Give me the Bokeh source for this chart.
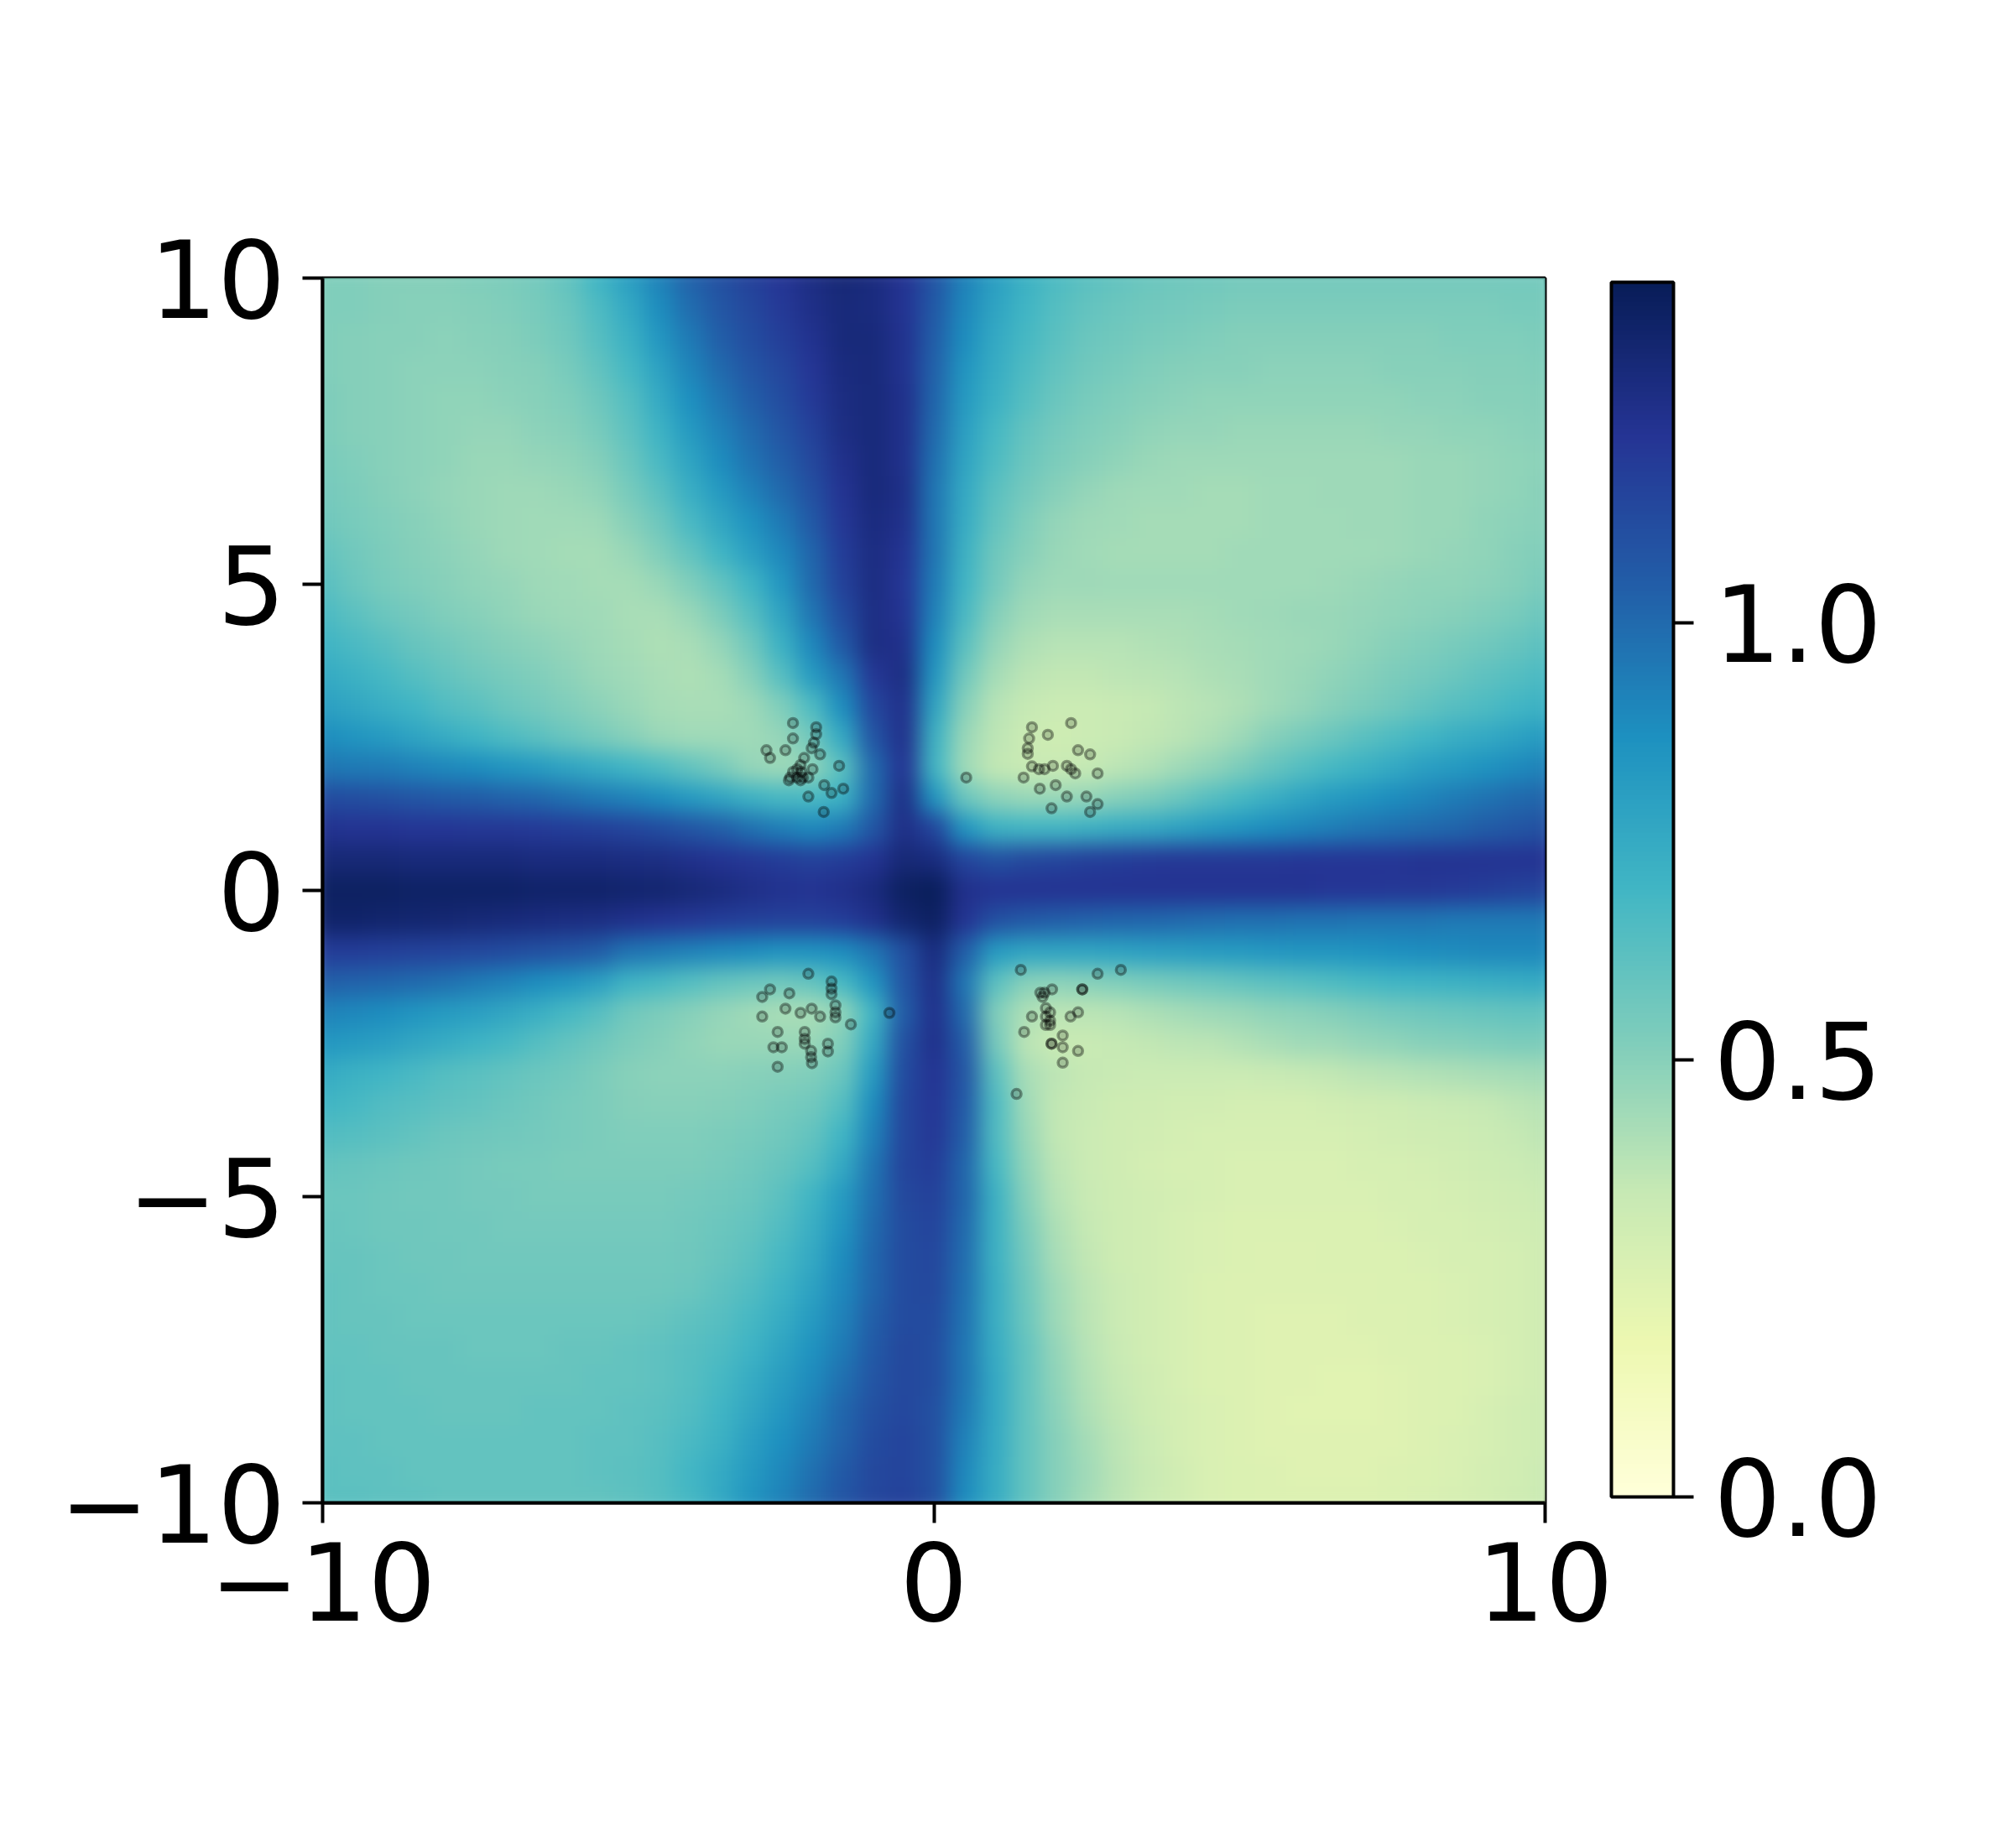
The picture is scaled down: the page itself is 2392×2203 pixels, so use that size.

from bokeh.plotting import figure
from bokeh.embed import file_html
from bokeh.resources import INLINE
from bokeh.document import Document
from bokeh.models import LinearColorMapper, ColorBar, FixedTicker, Range1d, CustomJS
import numpy as np

# field values x100, rows y=10..-10 step .5, columns x=-10..10 step .5
field_rows = [
[52,52,51,51,51,52,53,55,60,70, 80,92,103,110,116,121,126,130,128,122, 108, 92,80,72,66,62,60,58,57,56,55, 55,55,55,55,55,55,55,55,55,55],
[52,52,51,50,50,51,52,54,58,66, 76,88,99,107,113,119,125,129,128,122, 106, 90,78,70,64,60,58,56,55,54,53, 53,53,53,53,53,53,53,53,54,54],
[52,51,50,50,49,50,51,53,56,63, 72,84,95,104,111,117,123,129,129,123, 104, 88,76,68,62,58,56,54,53,52,51, 51,51,51,51,51,51,52,52,52,53],
[52,51,50,49,49,49,50,51,54,60, 68,79,91,100,108,114,121,128,129,123, 103, 85,74,66,60,56,54,52,51,50,50, 49,49,49,49,50,50,50,51,51,52],
[53,51,50,49,48,48,49,50,52,57, 64,75,87,96,104,111,119,127,129,124, 102, 83,72,64,58,54,52,50,49,48,48, 48,48,48,48,48,49,49,50,50,51],
[53,51,50,49,48,47,47,49,50,54, 61,71,83,92,100,108,116,126,129,124, 100, 80,68,60,55,52,50,48,47,47,46, 46,46,46,46,47,47,48,48,49,50],
[54,52,50,49,48,46,46,47,48,51, 58,67,78,88,97,104,113,124,129,124, 98, 78,66,58,53,50,48,46,45,45,45, 45,45,45,45,45,46,46,47,48,49],
[55,53,51,49,47,46,45,45,46,48, 54,62,73,83,92,100,110,122,129,125, 96, 76,62,55,50,47,45,44,44,43,43, 44,44,45,45,45,46,46,47,48,50],
[57,54,52,50,48,46,45,44,44,45, 50,57,67,77,86,95,106,120,128,124, 96, 74,60,52,47,45,44,43,43,43,43, 44,44,44,45,45,46,46,48,49,50],
[60,56,53,51,49,47,45,44,43,43, 46,52,60,70,80,90,102,118,127,122, 96, 72,57,50,46,44,43,43,43,43,44, 44,44,44,44,45,46,47,48,50,52],
[63,58,54,52,50,48,47,45,44,43, 43,46,52,60,70,84,100,116,127,121, 94, 70,55,47,45,45,44,44,44,44,44, 44,44,45,46,47,48,48,49,51,54],
[67,62,58,55,52,50,48,46,45,44, 42,42,46,53,63,78,96,112,126,122, 92, 67,51,44,42,42,42,42,42,43,44, 45,46,46,47,48,49,50,52,54,58],
[71,67,63,59,56,53,51,49,47,45, 43,41,42,47,56,72,90,106,126,124, 88, 62,47,41,39,39,39,40,41,42,43, 44,45,46,48,50,52,54,56,59,62],
[76,72,68,64,60,57,54,52,49,46, 44,42,41,43,50,63,82,96,120,126, 84, 56,43,38,36,36,37,38,39,41,42, 44,46,48,50,53,55,58,61,64,67],
[80,77,73,70,65,62,58,55,52,49, 46,43,42,42,45,52,66,88,114,124, 78, 50,39,35,33,33,34,35,37,39,41, 44,47,50,53,56,60,63,66,69,72],
[88,85,82,78,74,70,66,62,58,54, 50,46,44,44,44,47,56,76,108,124, 72, 46,37,33,32,33,34,36,38,41,45, 50,54,58,62,66,69,73,76,79,82],
[96,95,94,92,90,88,85,82,78,74, 70,66,60,54,47,45,48,62,100,122, 70, 44,36,34,34,35,37,40,44,48,53, 59,64,68,72,76,80,83,86,89,92],
[112,111,110,108,106,105,103,101,98,95, 92,88,83,78,72,68,67,72,100,125, 85, 58,49,46,46,47,50,53,58,63,68, 73,78,82,85,88,91,94,97,100,102],
[123,122,122,121,121,120,120,119,118,117, 115,112,108,104,98,93,90,94,107,125, 115, 85,72,70,70,72,74,76,79,82,85, 88,91,93,96,98,100,102,105,107,110],
[130,130,130,129,129,129,129,128,128,128, 127,126,124,122,120,118,116,118,122,130, 128, 115,110,113,115,117,118,119,120,120,120, 120,121,121,121,121,122,122,122,122,122],
[136,136,136,135,135,135,135,134,134,134, 133,132,130,128,125,123,122,124,128,136, 138, 124,122,122,122,122,122,122,122,122,122, 122,122,121,121,120,120,119,118,116,115],
[134,134,133,132,131,130,129,128,127,126, 124,122,120,118,117,116,116,118,124,132, 136, 122,110,106,104,103,102,101,100,99,98, 98,97,97,96,96,96,95,95,95,95],
[118,118,117,116,115,114,112,110,108,105, 97,95,92,90,88,86,86,88,96,110, 128, 104,82,78,78,78,79,80,81,82,83, 84,85,85,86,87,88,89,90,90,90],
[104,103,102,100,98,95,92,88,85,80, 71,68,64,60,58,57,60,68,85,108, 125, 96,62,50,49,50,52,54,56,58,60, 62,64,66,68,70,71,72,73,74,75],
[92,90,88,85,82,80,77,73,68,63, 56,53,50,47,44,42,42,48,70,105, 124, 100,52,41,38,38,39,41,43,45,46, 48,49,51,53,55,57,58,59,60,60],
[84,82,80,77,74,71,68,64,60,57, 53,51,48,46,46,46,46,52,76,110, 124, 105,55,38,34,34,35,36,37,38,40, 42,44,45,47,48,50,51,52,53,53],
[75,72,70,67,64,62,60,58,56,53, 50,49,49,49,50,51,52,58,82,112, 122, 108,62,42,37,35,34,33,33,33,33, 34,35,36,38,39,40,41,42,43,44],
[70,68,65,63,61,60,58,56,54,53, 51,50,50,51,52,54,56,64,88,114, 121, 106,66,44,36,34,32,31,30,30,29, 29,29,30,31,32,33,34,35,37,39],
[65,64,62,60,58,57,56,55,54,53, 52,52,52,53,54,56,60,70,92,114, 120, 104,66,46,36,33,31,30,29,28,28, 28,28,28,29,30,31,32,33,35,37],
[60,59,58,57,56,55,54,54,53,53, 53,53,53,54,56,59,64,76,96,115, 118, 102,68,48,37,33,31,29,28,28,27, 27,27,27,28,28,29,30,32,33,35],
[58,58,57,56,56,55,55,54,54,54, 54,54,55,56,58,62,70,82,98,113, 116, 102,72,50,39,34,32,30,29,28,27, 27,27,27,27,28,28,29,30,31,33],
[59,58,57,57,56,56,55,55,55,55, 55,55,56,58,60,65,73,85,100,112, 115, 100,72,53,41,35,32,30,28,27,26, 26,26,26,26,27,28,28,29,30,32],
[59,59,58,57,57,56,56,56,56,56, 56,56,57,59,62,68,76,88,101,112, 114, 99,72,55,42,36,32,30,28,27,26, 25,25,26,26,26,27,28,28,29,31],
[60,59,58,58,57,57,57,57,57,57, 57,57,58,61,65,71,79,90,102,112, 113, 98,73,57,44,37,33,30,28,26,25, 25,25,25,25,26,26,27,28,29,31],
[60,59,59,58,58,58,58,58,58,58, 58,59,61,63,68,74,82,92,104,112, 112, 97,73,58,45,38,33,30,28,26,25, 24,24,24,25,25,26,27,28,29,31],
[60,60,59,59,59,58,58,58,59,59, 60,61,63,66,71,78,86,95,106,113, 111, 96,74,60,47,39,34,30,28,26,25, 24,24,24,24,25,25,26,27,29,31],
[61,60,60,59,59,59,59,59,59,60, 60,61,64,68,74,81,89,98,108,113, 111, 96,76,60,48,40,35,31,28,26,25, 24,24,23,23,24,25,26,27,29,31],
[61,60,60,60,59,59,59,60,60,60, 61,62,65,70,77,84,92,101,110,114, 110, 95,76,60,49,41,36,32,29,27,25, 24,23,23,23,24,25,26,28,30,32],
[61,61,60,60,60,60,60,60,60,61, 61,63,67,72,80,87,95,103,112,115, 110, 92,75,60,50,43,37,33,29,27,25, 24,24,24,24,24,25,27,28,30,32],
[62,61,61,60,60,60,60,60,60,61, 62,64,69,75,83,90,98,106,113,115, 110, 90,74,60,50,44,38,34,30,27,26, 25,24,24,24,25,26,27,29,30,33],
[62,62,61,61,60,60,60,60,60,60, 61,64,68,76,85,92,100,108,114,116, 110, 88,74,60,50,43,38,33,30,27,26, 25,25,25,25,26,27,28,29,31,33],
]

pts_x = [-2.305,-2.305,-2.428,-2.739,-2.680,-1.925,-1.925,-1.962,-1.999,-1.861,-2.122,-2.181,-2.236,-2.305,-2.351,-2.236,-2.145,-2.053,-1.985,-2.168,-1.550,-1.793,-1.674,-1.482,-2.053,-1.802,-2.181,-2.373,
 1.605,1.559,1.536,1.536,1.865,2.245,2.359,2.556,2.679,1.468,0.530,1.605,1.719,1.810,1.948,2.176,2.245,2.313,1.733,1.993,2.176,2.496,2.679,2.556,1.925,
 -2.053,-1.674,-1.674,-1.674,-2.680,-2.808,-2.364,-2.428,-2.181,-1.999,-1.861,-1.610,-1.610,-1.610,-2.808,-1.358,-0.727,-2.556,-2.113,-2.113,-2.113,-2.625,-2.488,-2.008,-2.008,-1.994,-1.733,-1.733,-2.556,
 1.422,2.679,3.059,1.934,2.428,2.428,1.742,1.810,1.778,1.833,1.902,1.833,1.902,1.833,1.902,1.605,2.236,2.359,1.477,2.108,1.925,1.925,2.108,2.359,2.108,1.353]
pts_y = [2.734,2.482,2.291,2.291,2.163,2.665,2.551,2.414,2.323,2.222,2.163,2.049,1.980,1.935,1.843,1.843,1.843,1.843,1.980,1.935,2.035,1.720,1.592,1.661,1.533,1.282,1.798,1.798,
 2.665,2.482,2.323,2.231,2.542,2.734,2.291,2.222,1.912,1.843,1.843,2.026,1.980,1.980,2.035,2.035,1.980,1.912,1.661,1.720,1.533,1.533,1.410,1.282,1.341,
 -1.360,-1.488,-1.602,-1.694,-1.616,-1.739,-1.680,-1.931,-2.000,-1.931,-2.059,-1.876,-1.990,-2.072,-2.059,-2.187,-2.000,-2.310,-2.310,-2.424,-2.502,-2.561,-2.561,-2.620,-2.721,-2.821,-2.502,-2.629,-2.880,
 -1.297,-1.360,-1.297,-1.616,-1.616,-1.616,-1.671,-1.671,-1.739,-1.922,-1.990,-2.059,-2.127,-2.196,-2.196,-2.059,-2.059,-1.990,-2.310,-2.369,-2.502,-2.502,-2.561,-2.620,-2.812,-3.323]

x_ticks = [-10,0,10]
y_ticks = [-10,-5,0,5,10]
cbar_ticks = [0,0.5,1.0]

field = np.array(field_rows, dtype=float)/100

stops = ["#ffffd9","#edf8b1","#c7e9b4","#7fcdbb","#41b6c4","#1d91c0","#225ea8","#253494","#081d58"]
rgb = np.array([[int(s[i:i+2],16) for i in (1,3,5)] for s in stops],float)
t = np.linspace(0,8,256)
pal = ["#%02x%02x%02x"%tuple(int(round(np.interp(v,range(9),rgb[:,c]))) for c in range(3)) for v in t]
mapper = LinearColorMapper(palette=pal, low=0, high=1.39)
p = figure(width=2376, height=2180, output_backend="svg", toolbar_location=None,
           x_range=Range1d(-10,10), y_range=Range1d(-10,10), min_border_left=384, min_border_top=331,
           min_border_right=527, min_border_bottom=380, frame_width=1457, frame_height=1460)
p.image(image=[field[::-1]], x=-10.25, y=-10.25, dw=20.5, dh=20.5, color_mapper=mapper)
p.scatter(pts_x, pts_y, size=11, fill_color="black", fill_alpha=0.16, line_color="black", line_alpha=0.36, line_width=3.5)
p.grid.visible=False
for ax,tk in ((p.xaxis,x_ticks),(p.yaxis,y_ticks)):
    ax.ticker=FixedTicker(ticks=tk)
    ax.major_label_overrides={v:str(v).replace("-","\u2212") for v in tk}
    ax.major_label_text_font="DejaVu Sans"
    ax.major_label_text_font_size="128px"
    ax.major_label_text_color="black"
    ax.major_tick_out=24; ax.major_tick_in=0; ax.minor_tick_line_color=None
    ax.major_tick_line_width=4; ax.axis_line_width=4; ax.major_tick_line_color="black"; ax.axis_line_color="black"
p.xaxis.major_label_standoff=22
p.yaxis.major_label_standoff=20
p.yaxis.major_label_orientation="horizontal"
p.outline_line_color="black"; p.outline_line_width=4; p.outline_line_alpha=1
cb = ColorBar(color_mapper=mapper, ticker=FixedTicker(ticks=cbar_ticks), width=74, height=1448,
              location=(1536,7), padding=0, margin=0, major_label_text_font="DejaVu Sans", major_label_text_font_size="126px",
              major_label_text_color="black", major_tick_in=0, major_tick_out=24, major_tick_line_color="black", major_tick_line_width=4,
              minor_tick_line_color=None, bar_line_color="black", bar_line_width=4, label_standoff=24,
              major_label_overrides={0:"0.0",0.5:"0.5",1.0:"1.0"})
p.add_layout(cb,"center")

doc = Document()
doc.add_root(p)
soften = CustomJS(code="""
function walk(root){
  root.querySelectorAll('*').forEach(function(e){
    if(e.tagName.toLowerCase()==='image' && parseFloat(e.getAttribute('width'))>500){e.style.filter='blur(13px)';}
    if(e.shadowRoot){walk(e.shadowRoot);}
  });
}
walk(document);
var n=0; var h=setInterval(function(){walk(document); if(++n>20){clearInterval(h);}},100);
""")
doc.js_on_event("document_ready", soften)
open("out.html","w").write(file_html(p, INLINE))
